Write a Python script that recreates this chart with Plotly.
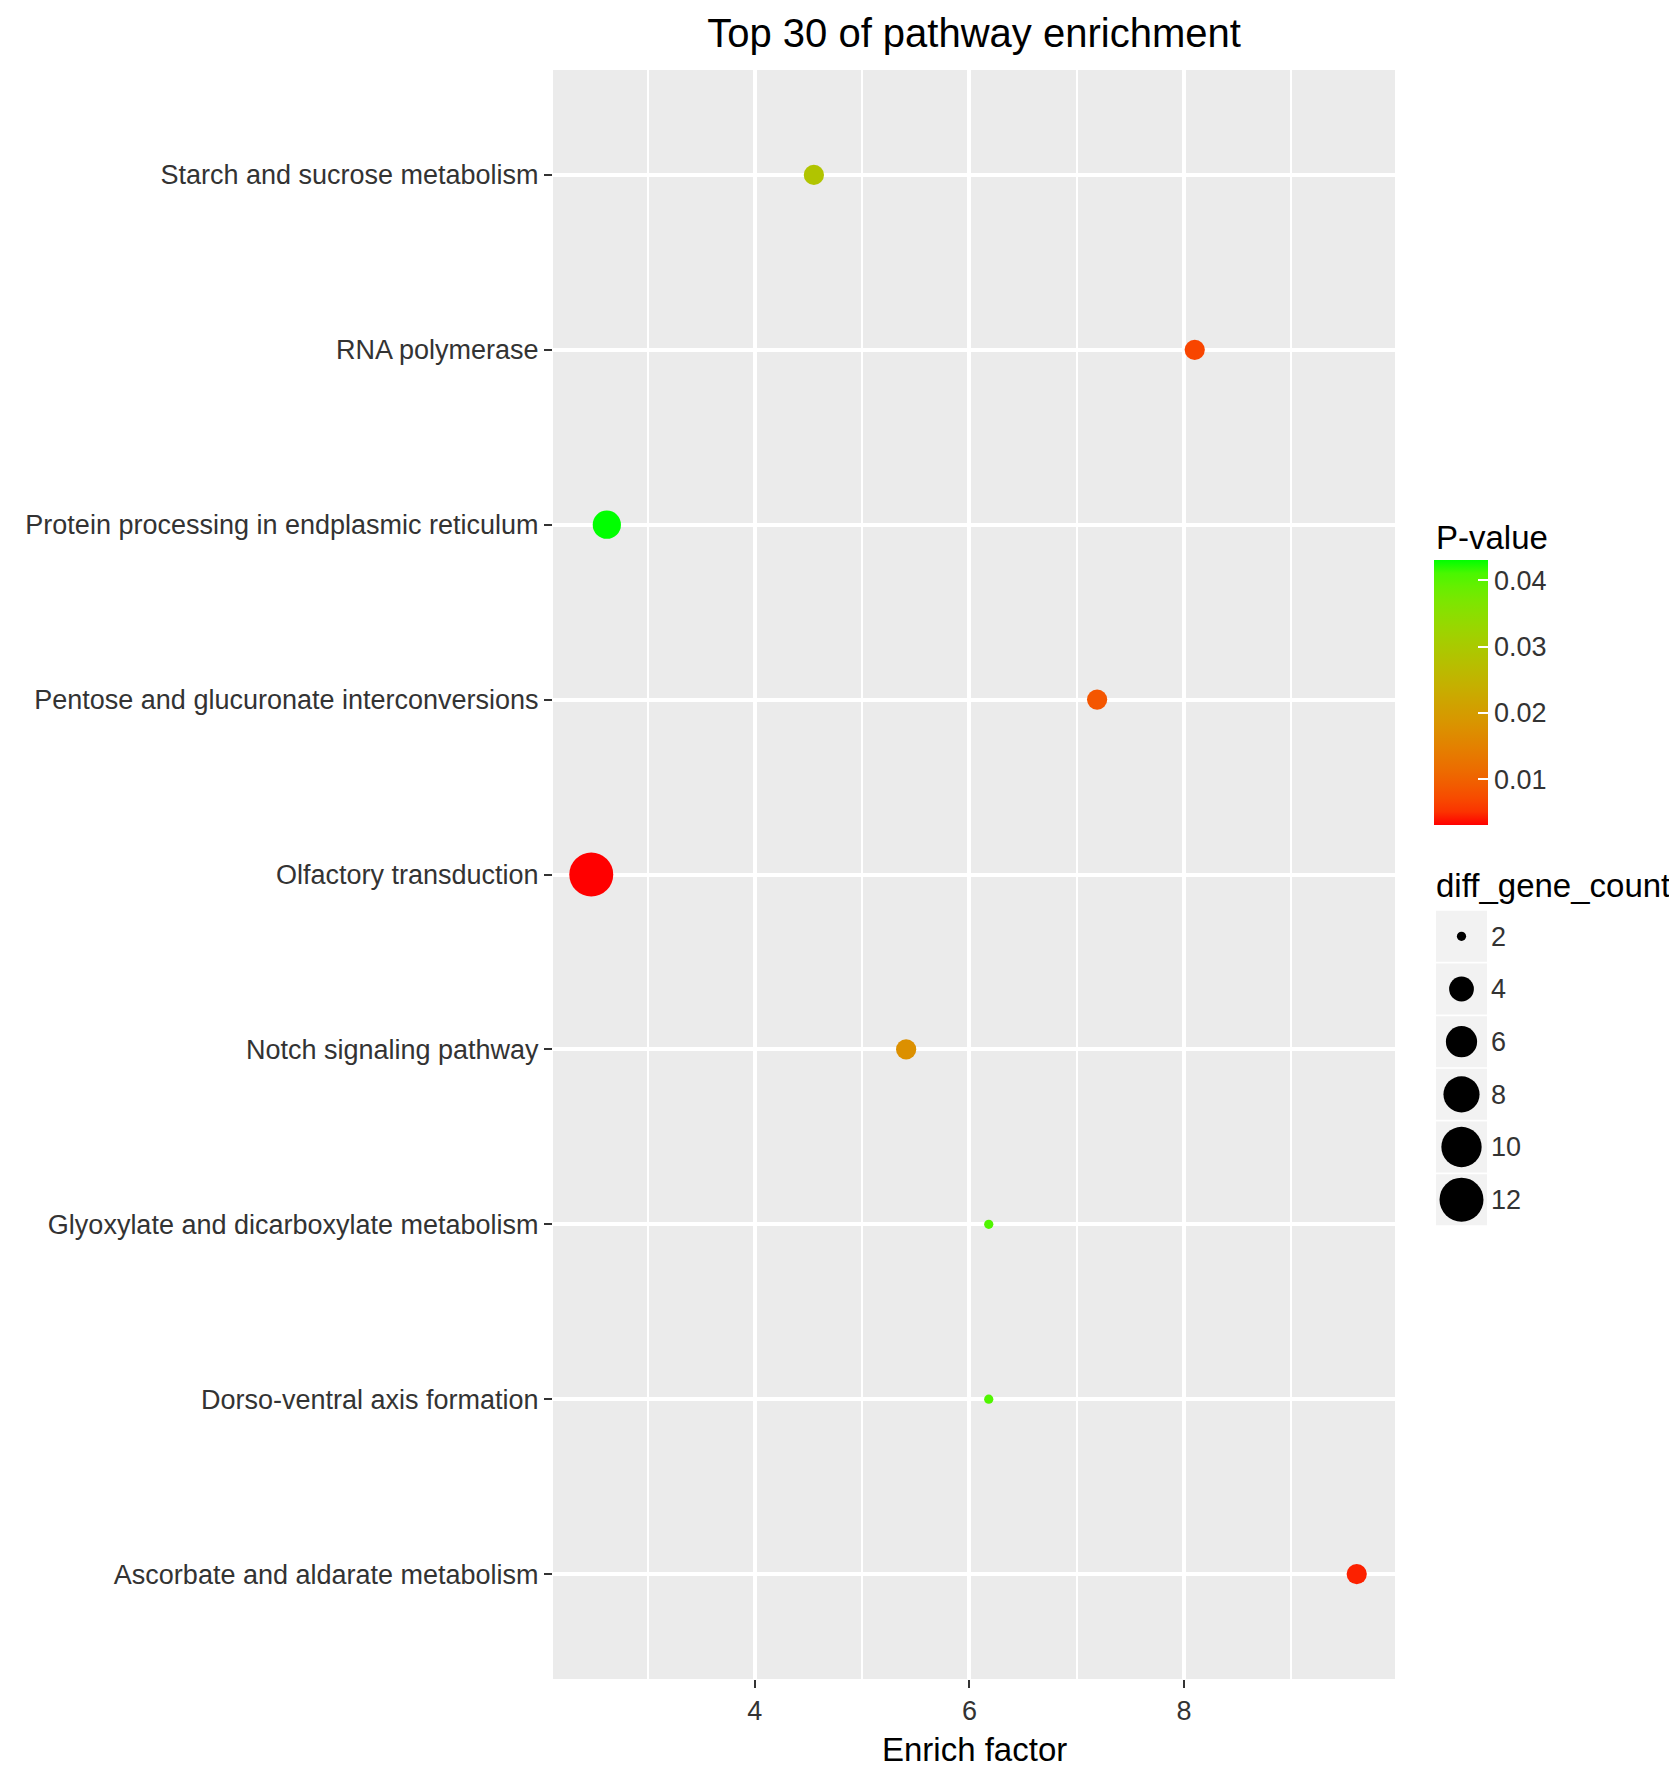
import numpy as np
import plotly.graph_objects as go

# pathway enrichment data
pathways = [
    "Starch and sucrose metabolism",
    "RNA polymerase",
    "Protein processing in endplasmic reticulum",
    "Pentose and glucuronate interconversions",
    "Olfactory transduction",
    "Notch signaling pathway",
    "Glyoxylate and dicarboxylate metabolism",
    "Dorso-ventral axis formation",
    "Ascorbate and aldarate metabolism",
]
enrich_factor = [4.55, 8.10, 2.62, 7.19, 2.475, 5.41, 6.18, 6.18, 9.61]
p_value = [0.0285, 0.0066, 0.0430, 0.0084, 0.0030, 0.0175, 0.0405, 0.0405, 0.0043]
gene_count = [3, 3, 5, 3, 12, 3, 2, 2, 3]

p_ticks = [0.01, 0.02, 0.03, 0.04]
size_breaks = [2, 4, 6, 8, 10, 12]

FONT = "Liberation Sans, Arial, Helvetica, sans-serif"
W, H = 1677, 1767
ML, MR, MT, MB = 545, 10, 62, 96
PLOT_W = W - ML - MR
PLOT_H = H - MT - MB
PANEL_W = 842


def py(px):
    # pixel row from top of page -> paper y
    return (H - MB - px) / PLOT_H


def px_x(px):
    return (px - ML) / PLOT_W


# red -> green gradient interpolated in CIELAB, like ggplot's scale_colour_gradient
def srgb_to_lab(rgb):
    c = np.array(rgb) / 255.0
    c = np.where(c <= 0.04045, c / 12.92, ((c + 0.055) / 1.055) ** 2.4)
    m = np.array([[0.4124, 0.3576, 0.1805],
                  [0.2126, 0.7152, 0.0722],
                  [0.0193, 0.1192, 0.9505]])
    xyz = m @ c / np.array([0.95047, 1.0, 1.08883])
    f = np.where(xyz > 0.008856, np.cbrt(xyz), 7.787 * xyz + 16 / 116)
    return np.array([116 * f[1] - 16, 500 * (f[0] - f[1]), 200 * (f[1] - f[2])])


def lab_to_srgb(lab):
    L, a, b = lab
    fy = (L + 16) / 116
    fx = fy + a / 500
    fz = fy - b / 200
    f = np.array([fx, fy, fz])
    xyz = np.where(f ** 3 > 0.008856, f ** 3, (f - 16 / 116) / 7.787)
    xyz = xyz * np.array([0.95047, 1.0, 1.08883])
    m = np.array([[3.2406, -1.5372, -0.4986],
                  [-0.9689, 1.8758, 0.0415],
                  [0.0557, -0.2040, 1.0570]])
    c = np.clip(m @ xyz, 0, 1)
    c = np.where(c <= 0.0031308, 12.92 * c, 1.055 * c ** (1 / 2.4) - 0.055)
    c = np.clip(np.round(c * 255), 0, 255).astype(int)
    return "rgb(%d,%d,%d)" % tuple(c)


lo, hi = srgb_to_lab((255, 0, 0)), srgb_to_lab((0, 255, 0))
colorscale = [[t, lab_to_srgb(lo + (hi - lo) * t)] for t in np.linspace(0, 1, 21)]


# ggplot-like area size scale (range 1..6) converted to pixel diameter
def point_px(v, vmin=2, vmax=12):
    s = 1 + 5 * np.sqrt((np.asarray(v, float) - vmin) / (vmax - vmin))
    return 2.44 * (2.845 * s + 0.945)


xmin, xmax = min(enrich_factor), max(enrich_factor)
pad = 0.05 * (xmax - xmin)

fig = go.Figure()
fig.add_trace(go.Scatter(
    x=enrich_factor, y=pathways, mode="markers",
    marker=dict(
        size=point_px(gene_count), color=p_value, colorscale=colorscale,
        cmin=min(p_value), cmax=max(p_value), opacity=1, line=dict(width=0),
        colorbar=dict(
            x=px_x(1426), xanchor="left", xpad=0, ypad=0,
            y=py(685), yanchor="middle",
            lenmode="pixels", len=265, thickness=54, outlinewidth=0,
            tickvals=p_ticks, ticktext=["%.2f" % t for t in p_ticks],
            ticks="inside", ticklen=10, tickwidth=2, tickcolor="white",
            tickfont=dict(family=FONT, size=27, color="#333333"),
        ),
    ),
    showlegend=False, hoverinfo="x+y",
))

# size legend drawn on its own small axes
fig.add_trace(go.Scatter(
    x=[0] * len(size_breaks), y=size_breaks, xaxis="x2", yaxis="y2",
    mode="markers", marker=dict(symbol="square", size=51, color="#F2F2F2", opacity=1,
                                line=dict(width=0)),
    showlegend=False, hoverinfo="skip",
))
fig.add_trace(go.Scatter(
    x=[0] * len(size_breaks), y=size_breaks, xaxis="x2", yaxis="y2",
    mode="markers", marker=dict(size=point_px(size_breaks), color="#000000", opacity=1,
                                line=dict(width=0)),
    showlegend=False, hoverinfo="skip",
))

fig.update_layout(
    width=W, height=H,
    margin=dict(l=ML, r=MR, t=MT, b=MB),
    paper_bgcolor="white", plot_bgcolor="white",
    font=dict(family=FONT, color="#333333"),
    title=dict(text="Top 30 of pathway enrichment", x=(PANEL_W / 2 + ML) / W, xanchor="center",
               y=1 - 25 / H, yanchor="middle", font=dict(family=FONT, size=40, color="black")),
    xaxis=dict(
        domain=[0, PANEL_W / PLOT_W], range=[xmin - pad, xmax + pad],
        tickvals=[4, 6, 8], showgrid=True, gridcolor="white", gridwidth=4,
        minor=dict(dtick=1, tick0=0, showgrid=True, gridcolor="white", gridwidth=2),
        ticks="outside", ticklen=8, tickwidth=2, tickcolor="#333333",
        tickfont=dict(size=27, color="#333333"), zeroline=False, showline=False,
    ),
    yaxis=dict(
        categoryorder="array", categoryarray=pathways[::-1],
        range=[-0.6, len(pathways) - 0.4],
        showgrid=True, gridcolor="white", gridwidth=4,
        ticks="outside", ticklen=8, tickwidth=2, tickcolor="#333333",
        tickfont=dict(size=27, color="#333333"), zeroline=False, showline=False,
    ),
    xaxis2=dict(domain=[px_x(1427), px_x(1480)], range=[-1, 1],
                anchor="y2", visible=False, fixedrange=True),
    yaxis2=dict(domain=[py(1218), py(902)],
                range=[13, 1], anchor="x2", side="right", showgrid=False, zeroline=False,
                tickvals=size_breaks, ticks="", ticklabelstandoff=2,
                tickfont=dict(size=27, color="#333333"), fixedrange=True),
    shapes=[dict(type="rect", xref="x domain", yref="y domain", x0=0, x1=1, y0=0, y1=1,
                 fillcolor="#EBEBEB", line=dict(width=0), layer="below")],
    annotations=[
        dict(text="Enrich factor", xref="paper", yref="paper", x=px_x(ML + PANEL_W / 2),
             y=py(1741), xanchor="center", yanchor="middle", showarrow=False,
             font=dict(size=33, color="black")),
        dict(text="P-value", xref="paper", yref="paper", x=px_x(1426),
             y=py(529), xanchor="left", yanchor="middle", showarrow=False,
             font=dict(size=33, color="black")),
        dict(text="diff_gene_count", xref="paper", yref="paper", x=px_x(1426),
             y=py(877), xanchor="left", yanchor="middle", showarrow=False,
             font=dict(size=33, color="black")),
    ],
)

fig.write_html("out.html")
